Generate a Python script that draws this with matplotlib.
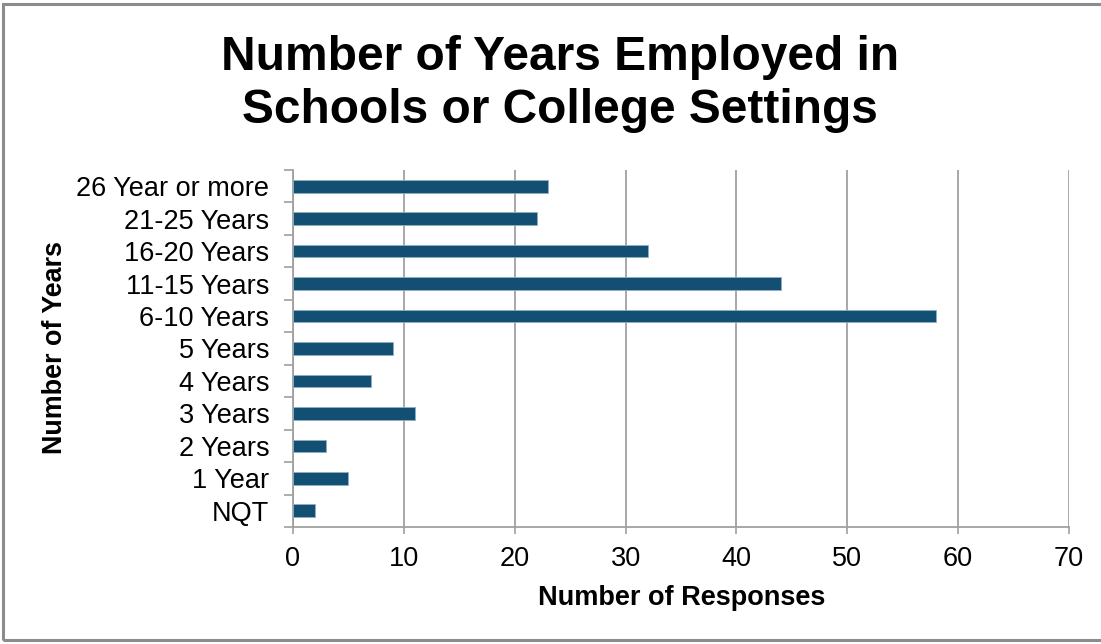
import matplotlib
matplotlib.use("Agg")
import matplotlib.pyplot as plt
from matplotlib.patches import Rectangle

categories = ["NQT", "1 Year", "2 Years", "3 Years", "4 Years", "5 Years",
              "6-10 Years", "11-15 Years", "16-20 Years", "21-25 Years",
              "26 Year or more"]
responses = [2, 5, 3, 11, 7, 9, 58, 44, 32, 22, 23]
x_ticks = [0, 10, 20, 30, 40, 50, 60, 70]

title = "Number of Years Employed in\nSchools or College Settings"
x_label = "Number of Responses"
y_label = "Number of Years"

W, H = 1101, 644
plt.rcParams['font.family'] = ['Liberation Sans', 'DejaVu Sans']
fig = plt.figure(figsize=(W / 100, H / 100), dpi=100)
fig.patch.set_facecolor("white")

ax = fig.add_axes([293 / W, 1 - 527 / H, (1069 - 293) / W, (527 - 170) / H])
ypos = list(range(len(categories)))
ax.barh(ypos, responses, height=0.39, color="#124F73",
        edgecolor="#8FAFC4", linewidth=0.6, zorder=3)
ax.set_xlim(0, 70)
ax.set_ylim(-0.5, len(categories) - 0.5)
ax.set_xticks(x_ticks)
ax.set_xticklabels([str(t) for t in x_ticks], fontsize=19.5)
ax.set_yticks(ypos)
ax.set_yticklabels(categories, fontsize=19.5)
ax.set_yticks([i - 0.5 for i in range(len(categories) + 1)], minor=True)
ax.tick_params(axis='y', which='major', length=0, pad=17)
ax.tick_params(axis='y', which='minor', length=6.5, width=1.2, color="#A0A0A0")
ax.tick_params(axis='x', which='major', length=5, width=1.2, color="#A0A0A0", pad=9)
ax.grid(axis='x', color="#A0A0A0", linewidth=1.3, zorder=0)
for s in ["top", "right"]:
    ax.spines[s].set_visible(False)
for s in ["left", "bottom"]:
    ax.spines[s].set_color("#A0A0A0")
    ax.spines[s].set_linewidth(1.3)

fig.text(682 / W, 1 - 598 / H, x_label, fontsize=19.5, fontweight="bold",
         ha="center", va="center")
fig.text(55 / W, 1 - 347 / H, y_label, fontsize=19.4, fontweight="bold",
         ha="center", va="center", rotation=90)
fig.text(560 / W, 1 - 84 / H, title, fontsize=34.5, fontweight="bold",
         ha="center", va="center", linespacing=1.25)

fig.add_artist(Rectangle((3 / W, 4 / H), 1.2, 1 - 8 / H, transform=fig.transFigure,
                         fill=False, edgecolor="#8C8C8C", linewidth=2.2))

fig.savefig("out.png", dpi=100, facecolor="white")
